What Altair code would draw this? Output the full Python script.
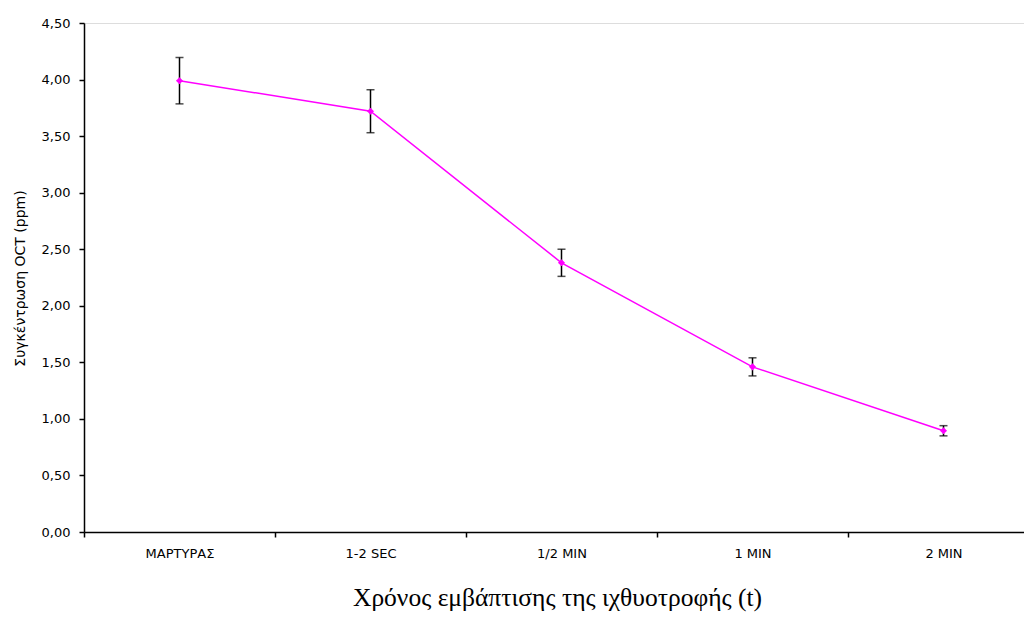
import altair as alt
import pandas as pd

categories = ["ΜΑΡΤΥΡΑΣ", "1-2 SEC", "1/2 MIN", "1 MIN", "2 MIN"]
means = [3.99, 3.72, 2.38, 1.46, 0.895]
errors = [0.205, 0.19, 0.12, 0.08, 0.045]

df = pd.DataFrame({"cat": categories, "mean": means, "err": errors})
df["lo"] = df["mean"] - df["err"]
df["hi"] = df["mean"] + df["err"]

x_enc = alt.X(
    "cat:N",
    sort=categories,
    scale=alt.Scale(range=[0, 955], paddingInner=0, paddingOuter=0),
    axis=alt.Axis(
        title="Χρόνος εμβάπτισης της ιχθυοτροφής (t)",
        titleFont="Liberation Serif",
        titleFontSize=25.5,
        titleFontWeight="normal",
        titleColor="black",
        titleX=473,
        titleY=65,
        titleBaseline="middle",
        labelFont="DejaVu Sans",
        labelFontSize=13,
        labelColor="black",
        labelAngle=0,
        labelPadding=10,
        tickBand="extent",
        tickSize=5,
        tickColor="black",
        domainColor="black",
        domainWidth=1.5,
        tickWidth=1.5,
        grid=False,
    ),
)

y_scale = alt.Scale(domain=[0, 4.5], nice=False, zero=True)
y_axis = alt.Axis(
    title="Συγκέντρωση OCT (ppm)",
    titleFont="DejaVu Sans",
    titleFontSize=14,
    titleFontWeight="normal",
    titleColor="black",
    titleX=-64,
    titleY=255,
    titleAngle=270,
    titleAlign="center",
    titleBaseline="middle",
    values=[0, 0.5, 1, 1.5, 2, 2.5, 3, 3.5, 4, 4.5],
    labelExpr="replace(format(datum.value, '.2f'), '.', ',')",
    labelFont="DejaVu Sans",
    labelFontSize=13,
    labelColor="black",
    labelPadding=9,
    tickSize=5,
    tickColor="black",
    tickWidth=1.5,
    domainColor="black",
    domainWidth=1.5,
    grid=False,
)

base = alt.Chart(df)

line = base.mark_line(color="#FF00FF", strokeWidth=1.5).encode(
    x=x_enc, y=alt.Y("mean:Q", scale=y_scale, axis=y_axis)
)
pts = base.mark_point(shape="diamond", filled=True, color="#FF00FF", size=50, opacity=1).encode(
    x=alt.X("cat:N", sort=categories), y="mean:Q"
)
bars = base.mark_rule(color="black", strokeWidth=1.5).encode(
    x=alt.X("cat:N", sort=categories), y="lo:Q", y2="hi:Q"
)
cap_lo = base.mark_tick(color="black", size=8, thickness=1.5, orient="horizontal").encode(
    x=alt.X("cat:N", sort=categories), y="lo:Q"
)
cap_hi = base.mark_tick(color="black", size=8, thickness=1.5, orient="horizontal").encode(
    x=alt.X("cat:N", sort=categories), y="hi:Q"
)

chart = (
    alt.layer(line, bars, cap_lo, cap_hi, pts)
    .properties(
        width=940,
        height=509,
        autosize=alt.AutoSizeParams(type="none"),
        padding={"left": 76, "top": 15, "right": 0, "bottom": 80},
    )
    .configure_view(stroke="#999999", strokeWidth=1.5)
    .configure(background="white")
)

chart.save("out.html", embed_options={"renderer": "svg", "actions": False})
